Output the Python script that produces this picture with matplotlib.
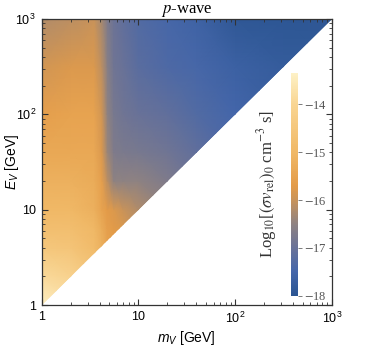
import matplotlib
matplotlib.use("Agg")
import matplotlib.pyplot as plt
import numpy as np
from matplotlib.colors import LinearSegmentedColormap
from matplotlib.patches import Polygon
from matplotlib.ticker import LogLocator, NullFormatter

plt.rcParams["font.family"] = ["Liberation Sans", "DejaVu Sans"]
plt.rcParams["mathtext.fontset"] = "custom"
plt.rcParams["mathtext.rm"] = "Liberation Sans"
plt.rcParams["mathtext.it"] = "Liberation Sans:italic"

# grid nodes
m_nodes = [1, 2, 3.5, 4.2, 4.8, 5.6, 7, 10, 20, 40, 100, 316, 1000]
E_nodes = [1, 2, 4, 6.3, 10, 20, 40, 100, 316, 1000]

# log10[(sigma v_rel)_0 cm^-3 s], rows = E_nodes, cols = m_nodes
sigv = [
    [-13.4, -13.8, -14.5, -15.0, -15.3, -15.5, -15.7, -16.0, -16.5, -17.0, -17.5, -17.8, -17.9],
    [-13.9, -14.1, -14.6, -15.0, -15.3, -15.5, -15.7, -16.0, -16.5, -17.0, -17.5, -17.8, -17.9],
    [-14.5, -14.6, -14.9, -15.2, -15.5, -15.6, -15.7, -16.0, -16.5, -17.0, -17.5, -17.8, -17.9],
    [-14.8, -14.8, -15.0, -15.3, -15.6, -15.7, -15.8, -16.1, -16.5, -17.0, -17.5, -17.8, -17.9],
    [-15.0, -15.0, -15.2, -15.5, -15.7, -15.8, -16.0, -16.2, -16.6, -17.0, -17.5, -17.8, -17.9],
    [-15.2, -15.2, -15.3, -15.6, -16.1, -16.5, -16.5, -16.5, -16.7, -17.0, -17.5, -17.8, -17.9],
    [-15.4, -15.4, -15.4, -15.8, -16.4, -16.7, -16.75, -16.8, -16.9, -17.1, -17.5, -17.8, -17.9],
    [-15.6, -15.5, -15.5, -15.9, -16.5, -16.8, -16.9, -17.0, -17.1, -17.3, -17.5, -17.8, -17.9],
    [-15.9, -15.8, -15.8, -16.1, -16.6, -16.9, -17.0, -17.2, -17.35, -17.45, -17.65, -17.8, -17.9],
    [-16.2, -16.1, -16.0, -16.3, -16.7, -16.95, -17.1, -17.3, -17.45, -17.6, -17.9, -17.95, -17.9],
]

cbar_ticks = [-14, -15, -16, -17, -18]
axis_ticks = [1, 10, 100, 1000]
axis_ticklabels = ["1", "10", "$10^2$", "$10^3$"]

VMIN, VMAX = -18.0, -13.35
stops = [
    (-18.0, "#2b5592"),
    (-17.5, "#4466aa"),
    (-17.0, "#697298"),
    (-16.5, "#8e8282"),
    (-16.0, "#c8935a"),
    (-15.7, "#e39b48"),
    (-15.0, "#f0b866"),
    (-14.0, "#f9d592"),
    (-13.35, "#fdf1c6"),
]
cmap = LinearSegmentedColormap.from_list(
    "sunset", [((v - VMIN) / (VMAX - VMIN), c) for v, c in stops])

fig = plt.figure(figsize=(3.74, 3.49), dpi=100)
ax = fig.add_axes([0.111, 0.126, 0.776, 0.8195])

M, E = np.meshgrid(m_nodes, E_nodes)
mesh = ax.pcolormesh(M, E, np.array(sigv), cmap=cmap, vmin=VMIN, vmax=VMAX,
                     shading="gouraud", rasterized=True)
# only E_V >= m_V is physical
lo, hi = m_nodes[0], m_nodes[-1]
clip = Polygon([(lo, lo), (hi, hi), (lo, hi)], transform=ax.transData)
mesh.set_clip_path(clip)

ax.set_xscale("log")
ax.set_yscale("log")
ax.set_xlim(lo, hi)
ax.set_ylim(lo, hi)
ax.set_xticks(axis_ticks, axis_ticklabels)
ax.set_yticks(axis_ticks, axis_ticklabels)
for a in (ax.xaxis, ax.yaxis):
    a.set_minor_locator(LogLocator(base=10, subs=np.arange(2, 10)))
    a.set_minor_formatter(NullFormatter())
ax.tick_params(which="both", direction="in", top=True, right=True,
               labelsize=9, color="#333333")
ax.tick_params(which="major", length=4.5, width=0.8, pad=4)
ax.tick_params(which="minor", length=2.5, width=0.6)
for s in ax.spines.values():
    s.set_linewidth(0.9)
    s.set_color("#333333")

ax.set_xlabel("$m_V$ [GeV]", fontsize=10, labelpad=2)
ax.set_ylabel("$E_V$ [GeV]", fontsize=10)
ax.yaxis.set_label_coords(-0.072, 0.5)
ax.set_title("$p$-wave", fontsize=12, family="Liberation Serif",
             math_fontfamily="stix", pad=3)

cax = fig.add_axes([0.777, 0.152, 0.0203, 0.639])
cb = fig.colorbar(mesh, cax=cax, ticks=cbar_ticks)
cb.outline.set_visible(False)
cb.ax.tick_params(direction="out", length=3, width=0.6, color="#666666",
                  labelcolor="#555555", labelsize=9, pad=1)
cb.ax.set_yticklabels([f"$-${abs(v)}" for v in cbar_ticks],
                      family="Liberation Serif", math_fontfamily="stix")
cb.set_label(r"Log$_{10}$[$(\sigma v_{\rm rel})_0$ cm$^{-3}$ s]",
             fontsize=12, family="Liberation Serif", math_fontfamily="stix",
             color="#333333")
cb.ax.yaxis.set_label_position("left")
cb.ax.yaxis.labelpad = 8

fig.savefig("out.png", dpi=100)
